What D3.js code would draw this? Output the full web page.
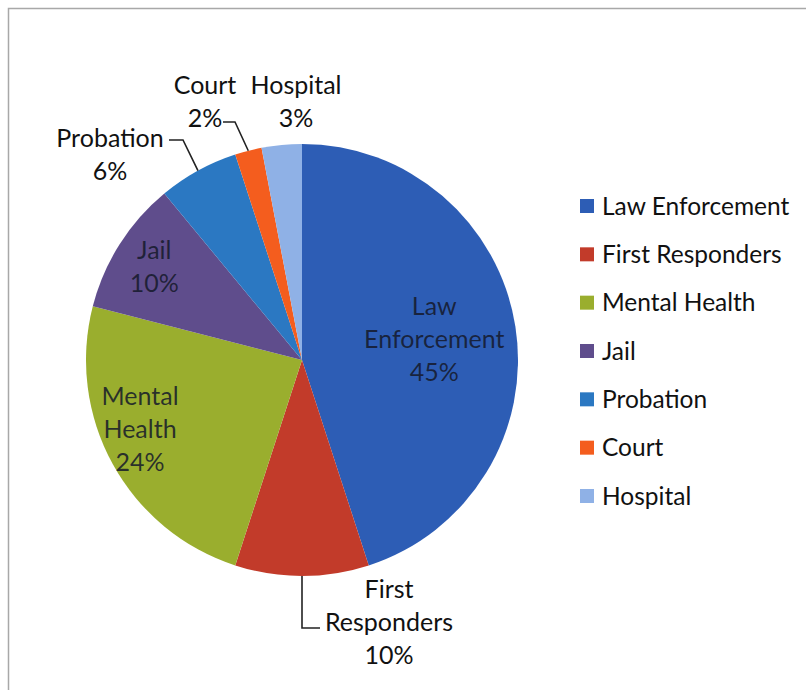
<!DOCTYPE html>
<html>
<head>
<meta charset="utf-8">
<script src="https://cdn.jsdelivr.net/npm/d3@7"></script>
<style>
  body { margin: 0; background: #fff; }
  svg text { font-family: Lato, "Open Sans", sans-serif; }
</style>
</head>
<body>
<div id="chart"></div>
<script>
// slice data (clockwise from 12 o'clock)
var categories = ["Law Enforcement", "First Responders", "Mental Health", "Jail", "Probation", "Court", "Hospital"];
var values = [45, 10, 24, 10, 6, 2, 3];
var colors = ["#2d5db5", "#c23b2a", "#9aae2e", "#5f4d8c", "#2b78c2", "#f45d1e", "#8fb1e6"];
// label text split into lines
var labelLines = [["Law", "Enforcement"], ["First", "Responders"], ["Mental", "Health"], ["Jail"], ["Probation"], ["Court"], ["Hospital"]];

var width = 806, height = 690;
var cx = 302, cy = 360, r = 216;
var lineH = 33;

var svg = d3.select("#chart").append("svg")
    .attr("width", width)
    .attr("height", height);

// chart frame
svg.append("rect")
    .attr("x", 8.5).attr("y", 8.5)
    .attr("width", 830).attr("height", 720)
    .attr("fill", "none")
    .attr("stroke", "#a8a8a8")
    .attr("stroke-width", 1.5);

var data = categories.map(function(c, i) {
    return { name: c, value: values[i], color: colors[i], lines: labelLines[i] };
});

var pie = d3.pie().sort(null).value(function(d) { return d.value; });
var arcs = pie(data);
var arc = d3.arc().innerRadius(0).outerRadius(r);

var g = svg.append("g").attr("transform", "translate(" + cx + "," + cy + ")");

g.selectAll("path.slice")
    .data(arcs).enter()
    .append("path")
    .attr("class", "slice")
    .attr("d", arc)
    .attr("fill", function(d) { return d.data.color; });

function polar(angle, rad) {
    return [rad * Math.sin(angle), -rad * Math.cos(angle)];
}
function midAngle(d) { return (d.startAngle + d.endAngle) / 2; }

// inside labels: radius factor per slice
var insideRadius = { "Law Enforcement": 0.62, "Jail": 0.81 };
// labels placed by hand: block centre relative to pie centre, plus leader line
var placed = {
    "Mental Health": { dx: -162, dy: 69, inside: true, leader: null },
    "First Responders": { dx: 87, dy: 262, leader: function(p) { return [p, [p[0], 268], [18, 268]]; } },
    "Probation": { dx: -192, dy: -205, leader: function(p) { return [p, [-119, -220], [-133, -220]]; } },
    "Court": { dx: -97, dy: -258, leader: function(p) { return [p, [-67, -238], [-79, -238]]; } },
    "Hospital": { dx: -6, dy: -258, leader: null }
};

var labels = g.append("g").attr("class", "labels");

arcs.forEach(function(d) {
    var name = d.data.name;
    var lines = d.data.lines.concat([d.data.value + "%"]);
    var pos, inside;
    if (insideRadius[name]) {
        pos = polar(midAngle(d), r * insideRadius[name]);
        inside = true;
    } else {
        var o = placed[name];
        pos = [o.dx, o.dy];
        inside = !!o.inside;
        if (o.leader) {
            var edge = polar(midAngle(d), r);
            labels.append("path")
                .attr("d", d3.line()(o.leader(edge)))
                .attr("fill", "none")
                .attr("stroke", "#222")
                .attr("stroke-width", 1.6);
        }
    }
    var t = labels.append("text")
        .attr("text-anchor", "middle")
        .attr("font-size", 25)
        .attr("fill", inside ? "#15192a" : "#111")
        .attr("fill-opacity", inside ? 0.85 : 1);
    var n = lines.length;
    lines.forEach(function(line, i) {
        t.append("tspan")
            .attr("x", pos[0])
            .attr("y", pos[1] + (i - (n - 1) / 2) * lineH)
            .attr("dy", "0.35em")
            .text(line);
    });
});

// legend
var legendY = d3.scalePoint().domain(categories).range([206, 496]);
var legend = svg.append("g").attr("class", "legend");
var item = legend.selectAll("g")
    .data(data).enter()
    .append("g")
    .attr("transform", function(d) { return "translate(580," + legendY(d.name) + ")"; });
item.append("rect")
    .attr("x", 0).attr("y", -7)
    .attr("width", 14).attr("height", 14)
    .attr("fill", function(d) { return d.color; });
item.append("text")
    .attr("x", 22)
    .attr("dy", "0.35em")
    .attr("font-size", 24.5)
    .attr("fill", "#111")
    .text(function(d) { return d.name; });
</script>
</body>
</html>
